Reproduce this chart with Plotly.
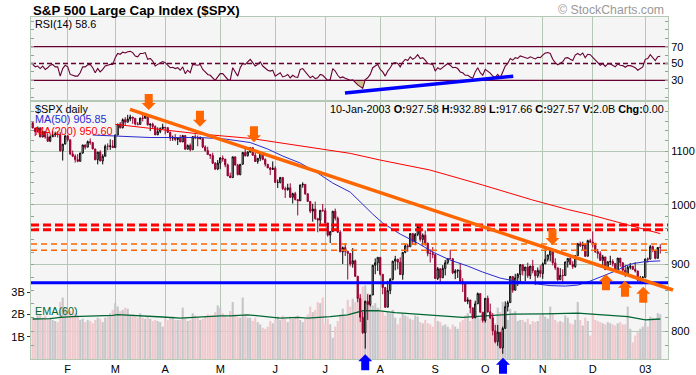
import math
import plotly.graph_objects as go

# ---------------- data ----------------
month_labels = ["F", "M", "A", "M", "J", "J", "A", "S", "O", "N", "D", "03"]
month_start_bar = [14, 33, 53, 75, 97, 117, 139, 161, 181, 204, 224, 245]

opens = [
    1156.55,1145.60,1138.41,1146.19,1127.57,1138.88,1127.58,1119.31,1128.18,1132.15,1133.28,1133.06,1100.64,1113.57,
    1130.20,1122.20,1094.44,1090.02,1083.51,1080.17,1096.22,1111.94,1107.50,1118.51,1116.48,1104.18,1083.34,1097.98,1080.95,1089.84,1109.43,1109.38,1109.89,
    1106.73,1131.78,1153.84,1146.14,1162.77,1157.54,1164.31,1168.26,1165.58,1154.09,1153.04,1166.16,1165.55,1170.29,1151.85,1153.59,1148.70,1131.87,1138.49,1144.58,
    1147.39,1146.54,1136.76,1125.40,1126.34,1122.73,1125.29,1117.80,1130.47,1103.69,1111.01,1102.55,1128.37,1126.07,1124.47,1125.17,1107.83,1100.96,1093.14,1091.48,1076.32,1065.45,
    1076.92,1086.46,1084.56,1073.43,1052.67,1049.49,1088.85,1073.01,1054.99,1074.56,1097.28,1091.07,1098.23,1106.59,1091.88,1079.88,1086.02,1097.08,1083.82,1074.55,1067.66,1064.66,
    1067.14,1040.68,1040.69,1049.90,1029.15,1027.53,1030.74,1013.60,1020.26,1009.56,1007.27,1036.17,1037.14,1019.99,1006.29,989.14,992.72,976.14,973.53,990.64,
    989.82,968.65,948.09,953.99,989.03,976.98,952.83,920.47,927.37,921.39,917.93,900.94,906.04,881.56,847.75,819.85,797.70,843.43,838.68,852.84,898.96,902.78,
    911.62,884.66,864.24,834.60,859.57,876.77,905.46,908.64,903.80,884.21,919.62,930.25,928.77,950.70,937.43,949.36,962.70,940.86,947.95,934.82,917.87,917.80,
    916.07,878.02,893.40,879.15,893.92,902.96,909.58,909.45,886.91,889.81,891.10,873.52,869.46,843.32,845.39,833.70,819.29,839.66,854.95,827.37,
    815.28,847.91,827.91,818.95,800.58,785.28,798.55,776.76,803.92,835.32,841.44,881.27,860.02,879.20,884.39,899.72,890.16,896.14,882.50,897.65,890.23,882.15,890.71,
    885.76,900.96,908.35,915.39,923.76,902.65,894.74,876.19,882.95,882.53,904.27,909.83,900.36,896.74,914.15,933.76,930.55,932.87,913.31,938.87,
    936.31,934.53,920.75,917.58,906.55,912.23,892.00,904.45,904.96,901.58,889.48,910.40,902.99,891.12,884.25,895.76,897.38,892.47,889.66,875.40,879.39,
    879.82,909.03,908.59,929.01,922.93,909.93,927.58,
]
highs = [
    1159.41,1145.60,1148.81,1146.19,1139.27,1138.88,1135.26,1131.18,1139.50,1138.31,1138.63,1137.47,1113.79,1130.21,
    1130.20,1122.20,1100.96,1093.58,1094.03,1096.30,1112.01,1112.68,1120.56,1124.72,1117.09,1104.18,1098.32,1101.50,1093.93,1112.71,1115.05,1123.06,1121.57,
    1131.79,1153.84,1157.74,1165.29,1167.94,1172.76,1173.03,1168.26,1165.58,1157.83,1166.48,1172.73,1173.94,1170.29,1155.10,1156.49,1151.04,1147.00,1146.95,1154.45,
    1147.84,1146.54,1138.85,1130.45,1133.31,1125.41,1131.76,1131.76,1130.47,1112.77,1114.86,1129.40,1133.00,1130.49,1128.82,1125.17,1111.17,1108.46,1094.36,1096.77,1078.95,1082.62,
    1088.32,1091.42,1084.56,1075.96,1058.67,1088.92,1088.85,1075.43,1074.84,1097.71,1104.23,1099.29,1106.59,1106.59,1099.55,1086.02,1097.10,1097.08,1085.98,1074.83,1069.50,1079.93,
    1070.74,1046.06,1050.11,1049.90,1033.02,1038.18,1039.04,1021.85,1023.47,1009.56,1036.17,1040.83,1037.61,1020.52,1006.29,1002.11,1005.88,977.43,990.67,1001.79,
    994.46,968.65,954.30,989.07,993.56,979.63,956.34,929.16,934.31,921.39,918.65,926.52,907.80,881.56,854.13,827.69,844.32,853.83,852.85,898.96,909.81,911.64,
    911.62,884.72,864.24,874.44,878.74,905.84,913.95,908.64,911.71,919.62,933.29,933.44,951.17,950.70,951.59,965.00,962.70,950.80,955.82,934.82,924.59,928.15,
    916.07,896.10,893.40,899.07,907.34,909.89,924.02,909.45,892.75,891.84,902.68,878.45,869.46,849.32,845.39,833.70,844.22,856.60,854.95,827.37,
    848.00,851.93,840.02,825.90,808.86,808.86,798.55,806.51,843.27,844.39,881.27,881.27,885.35,886.68,900.69,899.72,896.14,902.94,897.71,907.44,890.64,895.28,898.83,
    903.42,924.58,915.83,925.66,923.76,910.11,894.74,894.30,892.51,904.27,910.21,915.91,905.45,915.01,935.13,937.15,937.15,932.87,940.41,941.82,
    954.28,934.53,925.25,921.49,915.48,912.23,904.95,914.11,908.37,901.58,910.42,910.40,902.99,899.19,897.79,902.43,897.38,903.89,890.46,882.10,881.93,
    909.03,911.25,931.77,930.81,922.93,928.31,932.89,
]
lows = [
    1145.45,1129.57,1136.88,1127.49,1127.57,1124.45,1117.91,1117.43,1128.18,1127.82,1126.66,1098.74,1081.66,1113.30,
    1118.51,1092.25,1088.29,1077.78,1078.44,1079.91,1094.68,1102.98,1107.50,1112.30,1103.23,1082.24,1074.36,1080.24,1074.39,1089.84,1101.72,1102.26,1106.73,
    1106.73,1130.93,1144.78,1145.11,1150.69,1157.54,1159.58,1154.34,1151.01,1151.08,1153.04,1159.14,1165.55,1151.61,1139.48,1144.60,1131.87,1131.61,1135.33,1143.58,
    1132.87,1135.71,1119.68,1120.06,1119.49,1111.79,1117.80,1117.80,1102.42,1102.74,1099.41,1102.55,1123.37,1109.29,1122.59,1105.62,1098.94,1092.51,1084.81,1076.31,1063.62,1063.46,
    1065.29,1079.46,1068.89,1052.65,1048.96,1049.49,1072.23,1053.93,1053.90,1074.56,1088.94,1089.17,1096.77,1090.61,1079.08,1075.64,1080.55,1082.19,1070.31,1067.66,1054.26,1064.66,
    1039.90,1030.52,1038.84,1026.91,1012.49,1025.45,1012.94,1002.58,1008.12,981.63,1007.27,1030.92,1017.88,1005.54,985.65,970.85,974.21,952.92,963.74,988.31,
    967.43,945.54,934.87,953.99,972.91,951.71,920.29,900.94,913.71,876.46,897.13,895.03,880.60,842.07,813.26,796.13,775.68,816.11,835.92,852.84,884.70,889.88,
    882.48,853.95,833.44,834.60,854.15,875.17,890.77,892.38,883.62,876.20,918.17,920.63,928.77,931.86,931.32,946.43,937.17,930.42,930.36,913.21,903.33,910.17,
    877.51,875.73,870.50,879.15,882.92,900.50,908.47,884.84,877.05,878.91,872.38,857.39,843.09,839.09,825.76,817.38,818.46,839.66,826.84,812.29,
    812.20,826.50,817.25,794.10,782.96,779.50,775.80,768.63,803.92,828.37,841.44,856.28,860.02,866.58,873.06,882.81,873.82,879.00,877.03,886.15,867.91,879.19,879.75,
    877.71,900.96,904.91,905.00,898.68,891.62,874.63,876.19,872.05,882.53,895.35,899.48,893.09,894.93,914.15,928.41,923.31,912.10,913.31,935.58,
    927.72,918.73,909.51,905.90,895.96,891.97,892.00,899.35,897.00,888.48,889.48,896.33,887.82,880.32,884.25,892.26,892.29,887.48,873.62,870.22,869.45,
    879.82,903.07,908.59,919.93,908.32,909.93,917.66,
]
closes = [
    1145.60,1138.41,1146.19,1127.57,1138.88,1127.58,1119.31,1128.18,1132.15,1133.28,1133.06,1100.64,1113.57,1130.20,
    1122.20,1094.44,1090.02,1083.51,1080.17,1096.22,1111.94,1107.50,1118.51,1116.48,1104.18,1083.34,1097.98,1080.95,1089.84,1109.43,1109.38,1109.89,1106.73,
    1131.78,1153.84,1146.14,1162.77,1157.54,1164.31,1168.26,1165.58,1154.09,1153.04,1166.16,1165.55,1170.29,1151.85,1153.59,1148.70,1131.87,1138.49,1144.58,1147.39,
    1146.54,1136.76,1125.40,1126.34,1122.73,1125.29,1117.80,1130.47,1103.69,1111.01,1102.55,1128.37,1126.07,1124.47,1125.17,1107.83,1100.96,1093.14,1091.48,1076.32,1065.45,1076.92,
    1086.46,1084.56,1073.43,1052.67,1049.49,1088.85,1073.01,1054.99,1074.56,1097.28,1091.07,1098.23,1106.59,1091.88,1079.88,1086.02,1097.08,1083.82,1074.55,1067.66,1064.66,1067.14,
    1040.68,1040.69,1049.90,1029.15,1027.53,1030.74,1013.60,1020.26,1009.56,1007.27,1036.17,1037.14,1019.99,1006.29,989.14,992.72,976.14,973.53,990.64,989.82,
    968.65,948.09,953.99,989.03,976.98,952.83,920.47,927.37,921.39,917.93,900.94,906.04,881.56,847.75,819.85,797.70,843.43,838.68,852.84,898.96,902.78,911.62,
    884.66,864.24,834.60,859.57,876.77,905.46,908.64,903.80,884.21,919.62,930.25,928.77,950.70,937.43,949.36,962.70,940.86,947.95,934.82,917.87,917.80,916.07,
    878.02,893.40,879.15,893.92,902.96,909.58,909.45,886.91,889.81,891.10,873.52,869.46,843.32,845.39,833.70,819.29,839.66,854.95,827.37,815.28,
    847.91,827.91,818.95,800.58,785.28,798.55,776.76,803.92,835.32,841.44,881.27,860.02,879.20,884.39,899.72,890.16,896.14,882.50,897.65,890.23,882.15,890.71,885.76,
    900.96,908.35,915.39,923.76,902.65,894.74,876.19,882.95,882.53,904.27,909.83,900.36,896.74,914.15,933.76,930.55,932.87,913.31,938.87,936.31,
    934.53,920.75,917.58,906.55,912.23,892.00,904.45,904.96,901.58,889.48,910.40,902.99,891.12,884.25,895.76,897.38,892.47,889.66,875.40,879.39,879.82,
    909.03,908.59,929.01,922.93,909.93,927.57,927.57,
]
volume_b = [
    1.85,1.80,1.95,2.00,1.85,1.95,1.80,1.85,1.75,1.70,1.65,2.55,2.75,2.30,
    2.05,2.15,2.00,2.05,1.95,1.75,1.80,1.65,1.75,1.70,1.60,1.75,1.85,1.80,1.65,1.85,1.90,2.05,2.20,
    2.50,2.35,2.15,2.20,2.30,2.25,1.95,2.00,1.90,1.85,2.05,1.85,1.80,1.90,1.80,1.70,1.75,1.70,1.65,1.45,
    1.80,1.75,1.85,1.90,1.75,1.75,1.75,2.30,1.85,1.70,1.75,2.05,1.95,1.85,1.75,1.80,1.90,2.00,1.95,1.95,2.10,2.40,
    2.30,2.05,1.95,1.85,2.15,2.55,2.00,1.90,1.85,2.75,2.00,1.85,1.85,1.70,1.85,1.65,1.55,1.40,1.35,1.45,1.70,1.60,
    1.75,1.90,1.75,1.95,1.80,1.65,1.90,1.80,1.85,1.95,1.75,1.65,1.80,2.00,2.35,2.10,2.20,2.55,2.50,2.75,
    1.60,1.80,1.55,0.95,1.45,1.70,2.00,2.25,1.95,2.65,2.35,2.70,2.55,2.75,2.90,3.25,3.30,2.95,2.55,2.40,2.50,2.30,
    2.25,2.10,1.95,2.10,2.05,2.20,1.85,1.55,1.85,2.05,1.95,1.90,1.80,1.75,1.95,1.90,1.65,1.60,1.75,1.60,1.55,1.45,
    1.85,1.70,1.65,1.50,1.55,1.45,1.35,1.55,1.45,1.35,1.65,1.75,1.95,2.05,1.70,2.05,2.15,1.90,1.80,1.95,
    2.15,1.80,1.85,1.95,1.60,2.30,2.10,2.55,2.40,1.75,2.25,2.05,2.15,1.70,1.75,1.75,1.65,1.80,1.55,1.70,1.65,1.70,1.95,
    2.05,1.90,1.80,2.35,2.05,1.75,1.65,1.70,1.65,1.95,1.85,1.60,1.55,1.75,2.55,1.75,1.50,1.85,1.70,1.05,
    2.05,1.75,1.70,1.65,1.60,1.55,1.65,1.60,1.55,1.50,1.60,1.65,1.55,1.55,2.35,1.35,0.75,1.05,1.20,1.35,1.45,
    1.65,1.45,1.90,1.85,1.75,2.05,2.00,
]
rsi14 = [
    49,46,47,44,47,43,45,48,49,46, 46,35,44,48,46,37,36,35,35,39,
    46,46,48.5,49,45,39,44,40,43,47, 48,49,49,57,62,61,63.5,62.5,64,64.5,
    63,59,58,62,62,63,55,56,53,47, 49,51,52.4,51,48,45,45.5,44,45,42,
    46,38,42,39,49,48.5,48,49,43,40, 37,36,33,30,34,38,38,35,31,30,
    45,40,35,45,50,49,52,55,51,47, 49,52,47,44,42,41,42,35,37,39,
    34,35,37,33,36,34,33.5,43,44,40, 37,33,35,32,33,37,36,33,30,31,
    44,41,36,33,34,32.5,31.5,30,30.5,27, 24.5,22.5,20.4,31,33,37,45,47,49,43,
    40,35,41,45,50,51,50,46,51.5,55, 53.5,58,55,57,60.5,56,57,54,50,49.5,
    49,41,45,43,45.5,48,50,48,45,45.5, 44,40,39,36,36,34,32.5,40,45,39,
    36,43,41,38.5,35,33.5,37,33,40,47, 50,56,54,57,56,59,58,57,56,58,
    57,55.5,57.5,57,60,62.5,63,62,55,51, 48.5,50,52,56.5,57,55,53.5,60,62,60,
    62.5,57,61,60.5,57.5,54,51,48,50,46.5, 49.5,49.5,48,46,49.5,48,47.5,45.5,47.5,47.5,
    46.5,45,42,44,46,55,56,60.5,57.5,53.5, 58,58.6,
]
ma50_bar = [24,35,47,57,67,77,87,94,100,107,114,120,127,136,140,147,154,160,167,174,180,187,194,199,207,213,218,223,226,231,234,237,240,245,251]
ma50 = [1131.6,1128.6,1126.6,1126.6,1126.6,1123.6,1116.7,1103.9,1090.3,1076.9,1058.0,1039.5,1023.0,984.0,968.5,949.8,934.8,920.1,907.1,897.6,
        888.1,878.7,873.3,871.0,867.1,866.4,867.9,874.1,878.7,886.6,891.3,897.6,901.5,904.7,905.85]
ma200_bar = [33,47,67,87,107,127,139,159,180,200,214,222,251]
ma200 = [1153.2,1145.1,1133.6,1125.0,1110.4,1095.5,1082.6,1063.6,1035.8,1008.7,992.0,984.0,950.60]
ema60_bar = [0,7,11,16,32,34,52,59,75,79,86,92,99,106,110,119,126,132,138,145,165,172,181,192,205,218,238,245,251]
ema60_b = [1.79,1.81,1.86,1.90,1.95,1.99,1.88,1.83,1.93,1.93,1.98,1.90,1.83,1.86,1.83,1.90,1.98,2.16,2.17,2.08,
           1.93,1.86,1.93,2.01,2.02,2.05,1.90,1.75,1.79]

# chartist annotations (bar number, price / RSI level)
orange_trend = [(38.9, 1184.2), (256.1, 860.4)]
blue_support = 871.4
red_levels = [965.0, 957.0]
orange_levels = [933.5, 923.0]
rsi_trend = [(124.9, 14.9), (192.2, 34.8)]
arrows_down_orange = [(46.4, 1182.8), (66.9, 1148.3), (88.5, 1117.1), (207.9, 931.6)]
arrows_up_orange = [(229.3, 884.6), (236.9, 874.7), (244.2, 865.5)]
arrows_up_blue = [(133.0, 767.9), (188.1, 763.4)]

assert len(opens) == len(highs) == len(lows) == len(closes) == len(volume_b) == len(rsi14) == 252

# ---------------- layout geometry ----------------
W, H = 696, 375
ML, MR, MT, MB = 31, 28, 17, 16
PW, PH = W - ML - MR, H - MT - MB
XR = [-0.68, 254.1]
MAIN_TOP = (359 - 101.5) / PH
RSI_BOT = (359 - 100) / PH
PR = [math.log10(761.6), math.log10(1200.7)]
VR = [0, 11.53e9]
RR = [6.55, 105.4]

GRID = "#b4c8b4"
BG = "#f5f5f5"
FONT = "Liberation Sans, Arial, sans-serif"
bars = list(range(len(closes)))


def px_x(x):
    return (x - ML) / PW


def px_y(y):
    return (H - MB - y) / PH


def to_paper(bar, price):
    xp = (bar - XR[0]) / (XR[1] - XR[0])
    yp = (math.log10(price) - PR[0]) / (PR[1] - PR[0]) * MAIN_TOP
    return xp, yp


fig = go.Figure()

# volume (base axis y2)
vol_colors = []
for i, c in enumerate(closes):
    prev = closes[i - 1] if i > 0 else opens[0]
    vol_colors.append("#efc8cc" if c < prev else "#c6c6ca")
fig.add_trace(go.Bar(x=bars, y=[v * 1e9 for v in volume_b], marker=dict(color=vol_colors, line=dict(width=0)),
                     xaxis="x", yaxis="y2", hoverinfo="skip", showlegend=False))
fig.add_trace(go.Scatter(x=ema60_bar, y=[v * 1e9 for v in ema60_b], mode="lines",
                         line=dict(color="#006633", width=1.3), xaxis="x", yaxis="y2",
                         hoverinfo="skip", showlegend=False))

# price (overlay axis y3)
fig.add_trace(go.Candlestick(x=bars, open=opens, high=highs, low=lows, close=closes,
                             xaxis="x", yaxis="y3", whiskerwidth=0,
                             increasing=dict(line=dict(color="#000000", width=1), fillcolor="#ffffff"),
                             decreasing=dict(line=dict(color="#990033", width=1), fillcolor="#990033"),
                             hoverinfo="skip", showlegend=False))
fig.add_trace(go.Scatter(x=ma200_bar, y=ma200, mode="lines", line=dict(color="#ff0000", width=1),
                         xaxis="x", yaxis="y3", hoverinfo="skip", showlegend=False))
fig.add_trace(go.Scatter(x=ma50_bar, y=ma50, mode="lines", line=dict(color="#2a2ad0", width=1),
                         xaxis="x", yaxis="y3", hoverinfo="skip", showlegend=False))
for lv in red_levels:
    fig.add_trace(go.Scatter(x=XR, y=[lv, lv], mode="lines", line=dict(color="#ff0000", width=3, dash="8px,4px"),
                             xaxis="x", yaxis="y3", hoverinfo="skip", showlegend=False))
for lv in orange_levels:
    fig.add_trace(go.Scatter(x=XR, y=[lv, lv], mode="lines", line=dict(color="#ff6600", width=1.5, dash="6px,4px"),
                             xaxis="x", yaxis="y3", hoverinfo="skip", showlegend=False))
fig.add_trace(go.Scatter(x=XR, y=[blue_support, blue_support], mode="lines", line=dict(color="#0000ff", width=3),
                         xaxis="x", yaxis="y3", hoverinfo="skip", showlegend=False))

# RSI panel
fill_x, fill_y = [], []
for i in range(1, len(rsi14)):
    a, b = rsi14[i - 1], rsi14[i]
    if (a >= 30) != (b >= 30):
        t = (30 - a) / (b - a)
        fill_x.append(i - 1 + t)
        fill_y.append(30)
    if b < 30:
        fill_x.append(i)
        fill_y.append(b)
fig.add_trace(go.Scatter(x=fill_x, y=fill_y, mode="lines", fill="toself", fillcolor="#cfc08f",
                         line=dict(width=0), xaxis="x2", yaxis="y", hoverinfo="skip", showlegend=False))
for lv, dash in [(70, "solid"), (30, "solid"), (50, "5px,3px")]:
    fig.add_trace(go.Scatter(x=XR, y=[lv, lv], mode="lines", line=dict(color="#660033", width=1.3, dash=dash),
                             xaxis="x2", yaxis="y", hoverinfo="skip", showlegend=False))
fig.add_trace(go.Scatter(x=bars, y=rsi14, mode="lines", line=dict(color="#660033", width=1.1),
                         xaxis="x2", yaxis="y", hoverinfo="skip", showlegend=False))
fig.add_trace(go.Scatter(x=[p[0] for p in rsi_trend], y=[p[1] for p in rsi_trend], mode="lines",
                         line=dict(color="#0000ff", width=3.5), xaxis="x2", yaxis="y",
                         hoverinfo="skip", showlegend=False))

# shapes: orange trend line + block arrows
shapes = []
(x0, y0), (x1, y1) = to_paper(*orange_trend[0]), to_paper(*orange_trend[1])
shapes.append(dict(type="line", xref="paper", yref="paper", x0=x0, y0=y0, x1=x1, y1=y1,
                   line=dict(color="#ff6600", width=3.5)))
DOWN = "M0,0 L-7,7 L-4,7 L-4,16 L4,16 L4,7 L7,7 Z"
UP = "M0,0 L-7,-7 L-4,-7 L-4,-16 L4,-16 L4,-7 L7,-7 Z"
for lst, path, col in [(arrows_down_orange, DOWN, "#ff6600"), (arrows_up_orange, UP, "#ff6600"),
                       (arrows_up_blue, UP, "#0000ff")]:
    for bar, price in lst:
        xa, ya = to_paper(bar, price)
        shapes.append(dict(type="path", xref="paper", yref="paper", xsizemode="pixel", ysizemode="pixel",
                           xanchor=xa, yanchor=ya, path=path, fillcolor=col, line=dict(width=0)))

# text
ann = []


def text(x, y, s, color="#000000", size=11, anchor="left", bold=False):
    ann.append(dict(xref="paper", yref="paper", x=px_x(x), y=px_y(y), text=("<b>%s</b>" % s) if bold else s,
                    showarrow=False, xanchor=anchor, yanchor="middle",
                    font=dict(family=FONT, size=size, color=color)))


text(31, 10, "S&amp;P 500 Large Cap Index ($SPX)", size=13.3, bold=True)
text(666, 10.5, "© StockCharts.com", color="#999999", size=12.3, anchor="right")
text(32.5, 23.7, "RSI(14) 58.6", size=10.8)
text(32.5, 108.5, "$SPX daily", size=10.8)
text(32.5, 119.5, "MA(50) 905.85", color="#2a2ad0", size=10.8)
text(32.5, 130.5, "MA(200) 950.60", color="#ff0000", size=10.8)
text(666, 109, "10-Jan-2003 <b>O:</b>927.58 <b>H:</b>932.89 <b>L:</b>917.66 <b>C:</b>927.57 <b>V:</b>2.0B <b>Chg:</b>0.00",
     size=10.8, anchor="right")
text(32.5, 311, "EMA(60)", color="#006633", size=10.8)

price_ticks = list(range(780, 1201, 20))
price_text = [str(v) if v in (800, 900, 1000, 1100) else "" for v in price_ticks]
rsi_ticks = list(range(10, 101, 10))
rsi_text = [str(v) if v in (30, 50, 70) else "" for v in rsi_ticks]

fig.update_layout(
    width=W, height=H, margin=dict(l=ML, r=MR, t=MT, b=MB, autoexpand=False),
    paper_bgcolor="#ffffff", plot_bgcolor=BG, showlegend=False, bargap=0.15,
    font=dict(family=FONT, size=11, color="#000000"),
    xaxis=dict(domain=[0, 1], anchor="y2", range=XR, tickmode="array", tickvals=month_start_bar,
               ticktext=month_labels, showgrid=True, gridcolor=GRID, gridwidth=1, ticks="",
               showline=True, mirror=True, linecolor=GRID, zeroline=False,
               rangeslider=dict(visible=False), tickfont=dict(size=11)),
    xaxis2=dict(domain=[0, 1], anchor="y", range=XR, tickmode="array", tickvals=month_start_bar,
                showticklabels=False, showgrid=True, gridcolor=GRID, ticks="", showline=True,
                mirror=True, linecolor=GRID, zeroline=False),
    yaxis=dict(domain=[RSI_BOT, 1], anchor="x2", range=RR, side="right", tickmode="array",
               tickvals=rsi_ticks, ticktext=rsi_text, ticks="inside", ticklen=3, tickcolor="#8fa58f",
               mirror="allticks", showline=True, linecolor=GRID, showgrid=False, zeroline=False,
               tickfont=dict(size=11)),
    yaxis2=dict(domain=[0, MAIN_TOP], anchor="x", range=VR, side="left", tickmode="array",
                tickvals=[1e9, 2e9, 3e9], ticktext=["1B", "2B", "3B"], ticks="outside", ticklen=3,
                tickcolor="#333333", showgrid=False, zeroline=False, showline=False, tickfont=dict(size=11)),
    yaxis3=dict(overlaying="y2", anchor="x", side="right", type="log", range=PR, tickmode="array",
                tickvals=price_ticks, ticktext=price_text, ticks="inside", ticklen=3, tickcolor="#8fa58f",
                mirror="allticks", showline=True, linecolor=GRID, showgrid=False, zeroline=False,
                minor=dict(tickmode="array", tickvals=[800, 900, 1000, 1100], showgrid=True,
                           gridcolor=GRID, gridwidth=1, ticks=""),
                tickfont=dict(size=11)),
    shapes=shapes, annotations=ann,
)

fig.write_html(
    "out.html",
    config={"displayModeBar": False},
    post_script="document.body.style.margin='0';document.body.style.padding='0';"
                "window.dispatchEvent(new Event('resize'));",
)
